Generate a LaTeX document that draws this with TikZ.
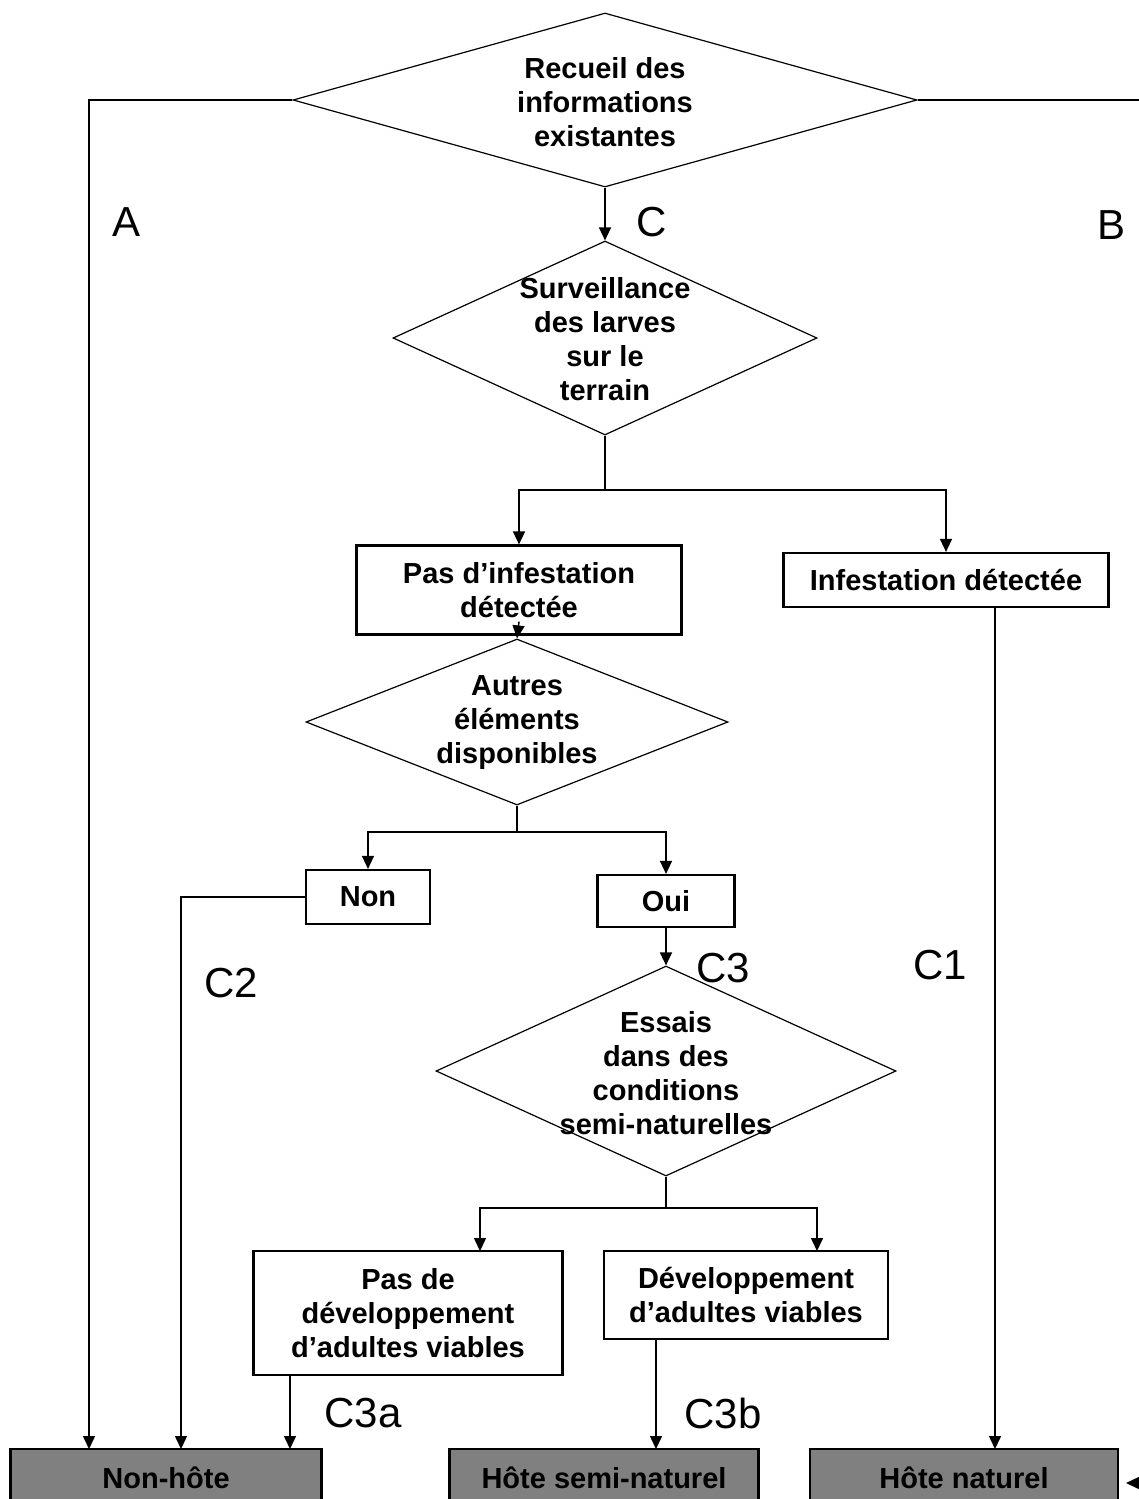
\documentclass[tikz,border=0pt]{standalone}
\usepackage{fontspec}
\setmainfont{Liberation Sans}
\usepackage{tikz}
\usetikzlibrary{arrows.meta}
\usetikzlibrary{shapes.geometric}
\tikzstyle{choice}=[diamond, draw, line width=1.2pt, inner sep=0pt]
\tikzstyle{words}=[align=center, font=\fontsize{29}{34}\selectfont\bfseries]
\tikzstyle{box}=[rectangle, draw, line width=2.2pt, inner sep=0pt, align=center, font=\fontsize{29}{34}\selectfont\bfseries]
\tikzstyle{result}=[box, fill=gray]
\tikzstyle{branch}=[font=\fontsize{42}{42}\selectfont]
\tikzstyle{arrow}=[draw=black, line width=1.5pt, >={Triangle[length=13pt, width=12pt]}]

\begin{document}
\begin{tikzpicture}[x=1pt, y=-1pt]
		   \useasboundingbox (0,0) rectangle (1139,1499);
		   \clip (0,0) rectangle (1139,1499);
		   \begin{scope}
			   \node (rec) at (605,100)[choice, minimum width=624pt, minimum height=174pt] {};
			   \node (rect) at (605,102)[words] {Recueil des\\informations\\existantes};
			   \node (surv) at (605,338)[choice, minimum width=424pt, minimum height=194pt] {};
			   \node (survt) at (605,339)[words] {Surveillance\\des larves\\sur le\\terrain};

			   \node (pasinf) at (519,590)[box, minimum width=325pt, minimum height=89pt] {Pas d’infestation\\détectée};
			   \node (infest) at (946,580)[box, minimum width=325pt, minimum height=54pt] {Infestation détectée};

			   \node (autres) at (517,722)[choice, minimum width=422pt, minimum height=166pt] {};
			   \node (autrest) at (517,723)[words] {Autres\\éléments\\disponibles};
			   \node (non) at (368,897)[box, minimum width=124pt, minimum height=54pt] {Non};
			   \node (oui) at (666,901)[box, minimum width=137pt, minimum height=52pt] {Oui};

			   \node (essais) at (666,1071)[choice, minimum width=460pt, minimum height=210pt] {};
			   \node (essaist) at (666,1073)[words] {Essais\\dans des\\conditions\\semi-naturelles};
			   \node (pasdev) at (408,1313)[box, minimum width=309pt, minimum height=124pt] {Pas de\\développement\\d’adultes viables};
			   \node (dev) at (746,1295)[box, minimum width=284pt, minimum height=88pt] {Développement\\d’adultes viables};

			   \node (nonhote) at (166,1478)[result, minimum width=311pt, minimum height=58pt] {Non-hôte};
			   \node (semi) at (604,1478)[result, minimum width=309pt, minimum height=58pt] {Hôte semi-naturel};
			   \node (nat) at (964,1478)[result, minimum width=308pt, minimum height=58pt] {Hôte naturel};

			   \node (a) at (127,222)[branch] {A};
			   \node (b) at (1111,225)[branch] {B};
			   \node (c) at (652,222)[branch] {C};
			   \node (c1) at (940,965)[branch] {C1};
			   \node (c2) at (231,983)[branch] {C2};
			   \node (c3) at (723,968)[branch] {C3};
			   \node (c3a) at (363,1413)[branch] {C3a};
			   \node (c3b) at (723,1413)[branch] {C3b};

			   \coordinate (forka) at (605,490);
			   \coordinate (forkb) at (517,832);
			   \coordinate (forkc) at (666,1208);
			   \coordinate (pdtop) at (480,1251);
			   \coordinate (dvtop) at (817,1251);
			   \coordinate (nha) at (89,1449);
			   \coordinate (nhc) at (181,1449);
			   \coordinate (nhd) at (290,1449);
			   \coordinate (smd) at (656,1449);
			   \coordinate (ntc) at (995,1449);
			   \coordinate (edgeb) at (1160,100);
			   \coordinate (ntb) at (1126,1483);
		   \end{scope}
		   \begin{scope}
			   \draw [arrow, ->] (rec.west) -| (nha);
			   \draw [arrow, ->] (rec.east) -- (edgeb) |- (ntb);
			   \draw [arrow, ->] (rec.south) -- (surv.north);

			   \draw [arrow] (surv.south) -- (forka);
			   \draw [arrow, ->] (forka) -| (pasinf.north);
			   \draw [arrow, ->] (forka) -| (infest.north);
			   \draw [arrow, ->] ([yshift=14pt]pasinf.south) -- (autres.north);

			   \draw [arrow] (autres.south) -- (forkb);
			   \draw [arrow, ->] (forkb) -| (non.north);
			   \draw [arrow, ->] (forkb) -| (oui.north);
			   \draw [arrow, ->] (non.west) -| (nhc);
			   \draw [arrow, ->] (oui.south) -- (essais.north);

			   \draw [arrow] (essais.south) -- (forkc);
			   \draw [arrow, ->] (forkc) -| (pdtop);
			   \draw [arrow, ->] (forkc) -| (dvtop);

			   \draw [arrow, ->] (pasdev.south -| nhd) -- (nhd);
			   \draw [arrow, ->] (dev.south -| smd) -- (smd);
			   \draw [arrow, ->] (infest.south -| ntc) -- (ntc);
		   \end{scope}
	   \end{tikzpicture}
\end{document}
